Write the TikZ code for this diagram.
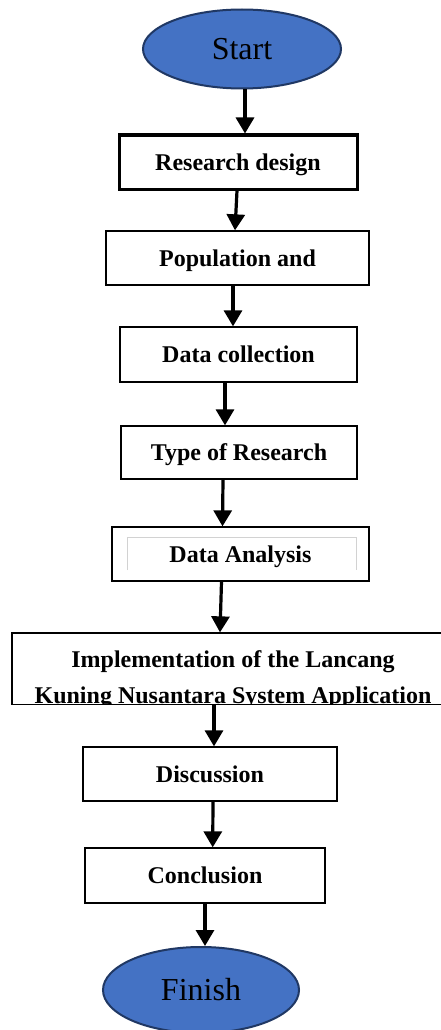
\documentclass[tikz,border=0pt]{standalone}
\usepackage{fontspec}
\setmainfont{Liberation Serif}
\usetikzlibrary{arrows.meta,shapes.geometric}

\definecolor{termfill}{HTML}{4472C4}
\definecolor{termline}{HTML}{203864}

\tikzset{
  stepbox/.style={draw=black, line width=1.3pt, fill=white, inner sep=0pt,
    font=\fontsize{24}{28}\selectfont\bfseries, text height=16pt, text depth=0pt},
  steptext/.style={font=\fontsize{24}{28}\selectfont\bfseries, inner sep=0pt, anchor=base},
  term/.style={ellipse, draw=termline, line width=2pt, fill=termfill, inner sep=0pt,
    font=\fontsize{32}{36}\selectfont, text height=21pt, text depth=0pt},
  flow/.style={line width=3.2pt, -{Triangle[width=18pt,length=16pt]}}
}

\begin{document}
\begin{tikzpicture}[x=1pt,y=-1pt]
  \useasboundingbox (0,0) rectangle (441,1030);
  \fill[white] (0,0) rectangle (441,1030);

  \node[term, minimum width=198, minimum height=79] (start) at (242,49) {Start};
  \node[stepbox, line width=3pt, minimum width=238, minimum height=54] (design) at (238,162) {Research design};
  \node[stepbox, minimum width=263, minimum height=54] (population) at (237.5,258) {Population and};
  \node[stepbox, minimum width=237, minimum height=55] (collection) at (238.5,354.5) {Data collection};
  \node[stepbox, minimum width=236, minimum height=53] (type) at (239,452.5) {Type of Research};
  \node[stepbox, minimum width=257, minimum height=54] (analysis) at (240.5,554) {Data Analysis};
  \draw[gray!35, line width=0.8pt] (127,570) -- (127,537) -- (356,537) -- (356,570);

  \node[stepbox, minimum width=431, minimum height=71.5] (impl) at (227.5,668.75) {};
  \begin{scope}
    \clip (12,640) rectangle (443,703);
    \node[steptext] (impltop) at (233,667) {Implementation of the Lancang};
    \node[steptext] (implbottom) at (233,703.5) {Kuning Nusantara System Application};
  \end{scope}

  \node[stepbox, minimum width=254, minimum height=54] (discussion) at (210,774) {Discussion};
  \node[stepbox, minimum width=240, minimum height=55] (conclusion) at (205,875.5) {Conclusion};
  \node[term, minimum width=196, minimum height=86] (finish) at (201,990) {Finish};

  \draw[flow] ([xshift=3]start.south) -- ([xshift=7]design.north);
  \draw[flow] ([xshift=-1]design.south) -- ([xshift=-2.5]population.north);
  \draw[flow] ([xshift=-4.5]population.south) -- ([xshift=-5.5]collection.north);
  \draw[flow] ([xshift=-13.5]collection.south) -- ([xshift=-14]type.north);
  \draw[flow] ([xshift=-16]type.south) -- ([xshift=-18]analysis.north);
  \draw[flow] ([xshift=-19]analysis.south) -- ([xshift=-7.5]impl.north);
  \draw[flow] ([xshift=-13.5]impl.south) -- ([xshift=4]discussion.north);
  \draw[flow] ([xshift=3]discussion.south) -- ([xshift=7.7]conclusion.north);
  \draw[flow] (conclusion.south) -- ([xshift=4]finish.north);
\end{tikzpicture}
\end{document}
